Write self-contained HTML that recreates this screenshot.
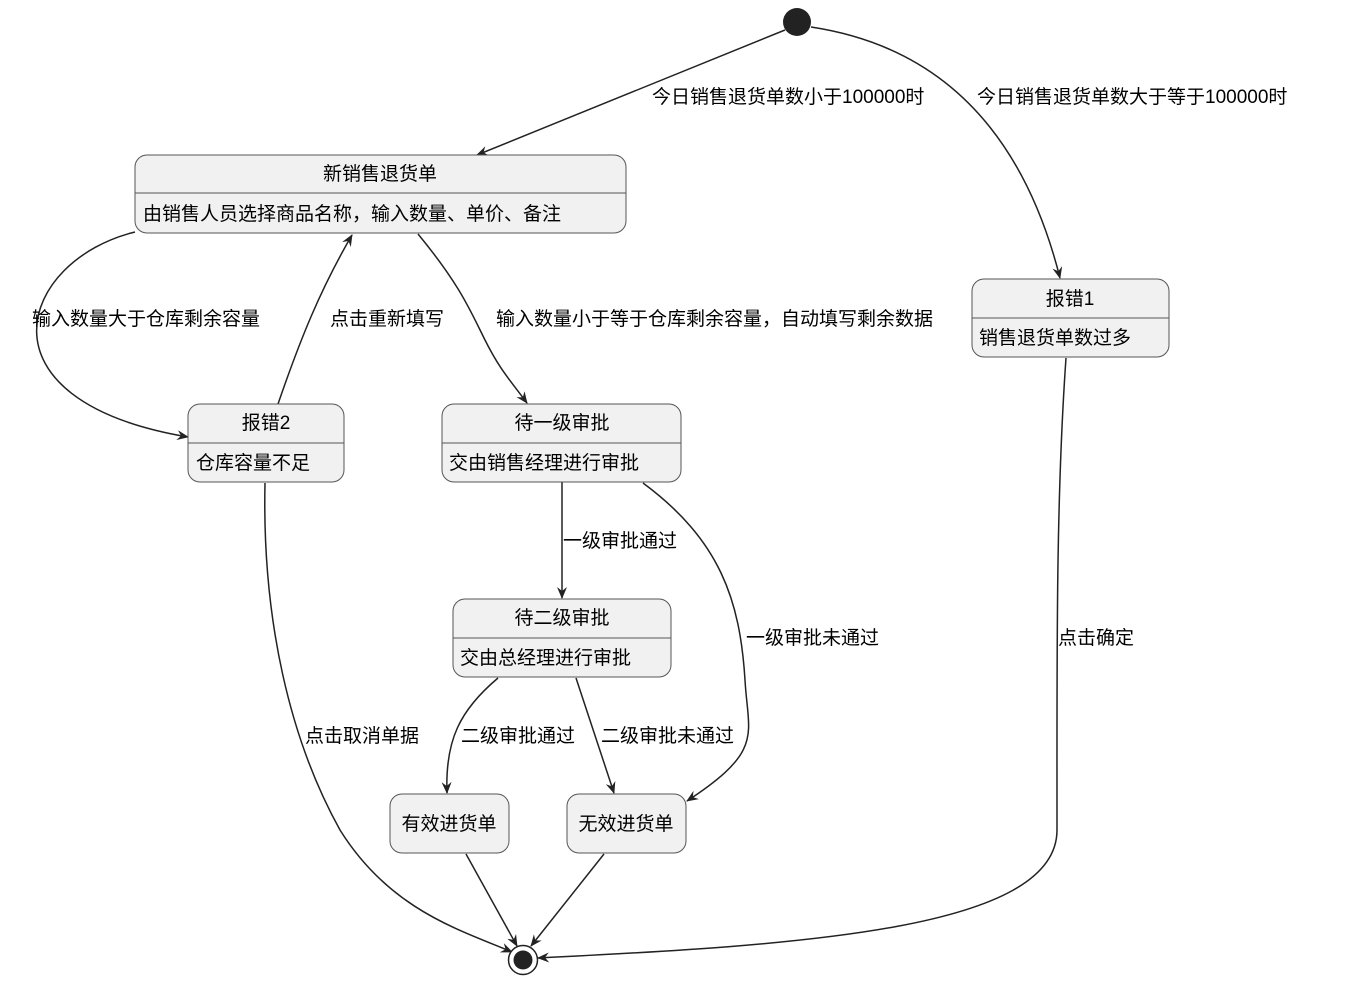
<!DOCTYPE html>
<html><head><meta charset="utf-8"><style>
html,body{margin:0;padding:0;background:#fff;}
svg text{font-family:"Liberation Sans","Noto Sans CJK SC",sans-serif;font-size:19px;fill:#000;}
</style></head><body>
<svg width="1345" height="984" viewBox="0 0 1345 984" xmlns="http://www.w3.org/2000/svg">
<defs>
<marker id="a" viewBox="0 0 12 10" refX="11" refY="5" markerWidth="12" markerHeight="10" markerUnits="userSpaceOnUse" orient="auto">
<path d="M0,0 L12,5 L0,10 L4,5 Z" fill="#222"/>
</marker>
</defs>
<g fill="none" stroke="#222" stroke-width="1.5" marker-end="url(#a)">
<path d="M785,30 L477,155"/>
<path d="M811,27 C930,45 1020,120 1060,278"/>
<path d="M135,232 C20,260 -30,400 188,437"/>
<path d="M278,404 C300,340 320,290 352,235"/>
<path d="M418,234 C460,285 470,310 485,340 C500,370 510,380 527,403"/>
<path d="M562,482 L562,598"/>
<path d="M643,483 C720,540 740,600 745,680 C748,735 765,750 687,801"/>
<path d="M498,678 C460,710 445,740 447,793"/>
<path d="M576,678 L614,793"/>
<path d="M265,483 C262,620 290,740 340,830 C390,910 460,930 512,952"/>
<path d="M466,854 L517,946"/>
<path d="M604,854 L531,946"/>
<path d="M1066,358 C1056,500 1057,650 1057,830 C1057,930 800,945 538,958"/>
</g>
<circle cx="797" cy="22" r="14" fill="#222"/>
<circle cx="523" cy="960" r="14.5" fill="#fff" stroke="#222" stroke-width="1.5"/>
<circle cx="523" cy="960" r="9.5" fill="#222"/>
<g fill="#f1f1f1" stroke="#555" stroke-width="1">
<rect x="135" y="155" width="491" height="78" rx="12"/>
<rect x="188" y="404" width="156" height="78" rx="12"/>
<rect x="442" y="404" width="239" height="78" rx="12"/>
<rect x="453" y="599" width="218" height="78" rx="12"/>
<rect x="390" y="794" width="119" height="59" rx="12"/>
<rect x="567" y="794" width="119" height="59" rx="12"/>
<rect x="972" y="279" width="197" height="78" rx="12"/>
</g>
<g stroke="#555" stroke-width="1">
<line x1="135" y1="193" x2="626" y2="193"/>
<line x1="188" y1="443" x2="344" y2="443"/>
<line x1="442" y1="443" x2="681" y2="443"/>
<line x1="453" y1="638" x2="671" y2="638"/>
<line x1="972" y1="318" x2="1169" y2="318"/>
</g>
<text x="380" y="180" text-anchor="middle">新销售退货单</text>
<text x="143" y="220">由销售人员选择商品名称，输入数量、单价、备注</text>
<text x="266" y="429" text-anchor="middle">报错2</text>
<text x="196" y="469">仓库容量不足</text>
<text x="562" y="429" text-anchor="middle">待一级审批</text>
<text x="449" y="469">交由销售经理进行审批</text>
<text x="562" y="624" text-anchor="middle">待二级审批</text>
<text x="460" y="664">交由总经理进行审批</text>
<text x="449" y="830" text-anchor="middle">有效进货单</text>
<text x="626" y="830" text-anchor="middle">无效进货单</text>
<text x="1070" y="305" text-anchor="middle">报错1</text>
<text x="979" y="344">销售退货单数过多</text>
<text x="652" y="103">今日销售退货单数小于100000时</text>
<text x="977" y="103">今日销售退货单数大于等于100000时</text>
<text x="32" y="325">输入数量大于仓库剩余容量</text>
<text x="330" y="325">点击重新填写</text>
<text x="496" y="325">输入数量小于等于仓库剩余容量，自动填写剩余数据</text>
<text x="563" y="547">一级审批通过</text>
<text x="746" y="644">一级审批未通过</text>
<text x="1058" y="644">点击确定</text>
<text x="305" y="742">点击取消单据</text>
<text x="461" y="742">二级审批通过</text>
<text x="601" y="742">二级审批未通过</text>
</svg>
</body></html>
